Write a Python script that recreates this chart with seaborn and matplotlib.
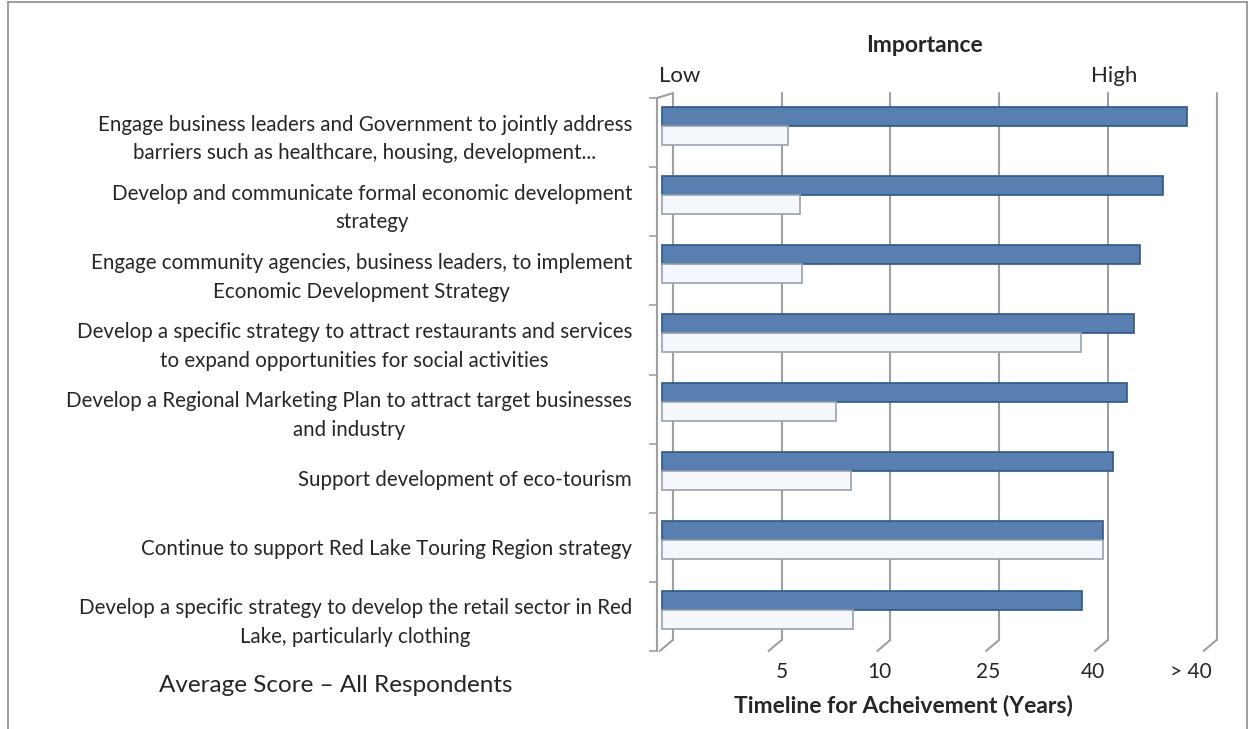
import numpy as np
import pandas as pd
import matplotlib
matplotlib.use("Agg")
import matplotlib.pyplot as plt
import seaborn as sns

# values (scale: 0 = Low ... 5 = "> 40")
categories = [
    "Engage business leaders and Government to jointly address\nbarriers such as healthcare, housing, development...",
    "Develop and communicate formal economic development\nstrategy",
    "Engage community agencies, business leaders, to implement\nEconomic Development Strategy",
    "Develop a specific strategy to attract restaurants and services\nto expand opportunities for social activities",
    "Develop a Regional Marketing Plan to attract target businesses\nand industry",
    "Support development of eco-tourism",
    "Continue to support Red Lake Touring Region strategy",
    "Develop a specific strategy to develop the retail sector in Red\nLake, particularly clothing",
]
importance = [4.83, 4.61, 4.40, 4.34, 4.28, 4.15, 4.06, 3.86]
timeline = [1.16, 1.27, 1.29, 3.85, 1.60, 1.74, 4.06, 1.76]
tick_labels = ["5", "10", "25", "40", "> 40"]
tick_pos = [1.1, 2.0, 3.0, 3.96, 4.86]

BLUE = "#4a7dbf"
BLUE_EDGE = "#2d5887"
WHITE = "#f3f7fc"
WHITE_EDGE = "#98a1ab"
GRID = "#a0a0a0"

df = pd.DataFrame({
    "label": categories * 2,
    "measure": ["Importance"] * len(categories) + ["Timeline"] * len(categories),
    "value": importance + timeline,
})

sns.set_style("white")
plt.rcParams["font.family"] = ["Lato", "DejaVu Sans"]

fig = plt.figure(figsize=(12.5, 7.29), dpi=100)
ax = fig.add_axes([657 / 1250, 1 - 651 / 729, 565 / 1250, 553 / 729])

sns.barplot(data=df, y="label", x="value", hue="measure", orient="h",
            palette=[BLUE, WHITE], width=0.55, dodge=True, legend=False,
            linewidth=1.2, zorder=3, ax=ax)
for cont, ec in zip(ax.containers, [BLUE_EDGE, WHITE_EDGE]):
    for bar in cont:
        bar.set_edgecolor(ec)

ax.set_xlim(-0.046, 5.15)
ax.set_ylim(7.6, -0.4)

# back wall gridlines with a small slant to the floor
for g in range(6):
    ax.plot([g + 0.1, g + 0.1], [-0.47, 7.44], color=GRID, lw=1.5, zorder=1, clip_on=False)
    ax.plot([g + 0.1, g - 0.02], [7.44, 7.6], color=GRID, lw=1.5, zorder=1, clip_on=False)
ax.plot([-0.046, 0.1], [-0.4, -0.47], color=GRID, lw=1.5, clip_on=False)

for side in ["top", "right", "bottom"]:
    ax.spines[side].set_visible(False)
ax.spines["left"].set_color(GRID)
ax.spines["left"].set_linewidth(1.5)

ax.set_yticks(np.arange(len(categories)) + 0.1)
ax.set_yticklabels(categories, fontsize=14.8, multialignment="center", linespacing=1.55)
ax.set_yticks(np.arange(-0.4, 7.7, 1.0), minor=True)
ax.tick_params(axis="y", which="major", length=0, pad=18)
ax.tick_params(axis="y", which="minor", length=6, width=1.2, color=GRID, direction="out", left=True)

ax.set_xticks(tick_pos)
ax.set_xticklabels(tick_labels, fontsize=15)
ax.tick_params(axis="x", length=0, pad=8)
ax.set_xlabel("")
ax.set_ylabel("")

fig.text(924 / 1250, 1 - 45 / 729, "Importance", ha="center", va="center",
         fontsize=16.5, fontweight="bold")
fig.text(680 / 1250, 1 - 76 / 729, "Low", ha="center", va="center", fontsize=16)
fig.text(1114 / 1250, 1 - 76 / 729, "High", ha="center", va="center", fontsize=16)
fig.text(903 / 1250, 1 - 705 / 729, "Timeline for Acheivement (Years)", ha="center",
         va="center", fontsize=16.5, fontweight="bold")
fig.text(336 / 1250, 1 - 685 / 729, "Average Score \u2013 All Respondents", ha="center",
         va="center", fontsize=17.5)

# outer frame of the original chart
fig.add_artist(plt.Line2D([8 / 1250, 8 / 1250], [0, 1 - 2 / 729], color="#8c8c8c", lw=1.2))
fig.add_artist(plt.Line2D([8 / 1250, 1247 / 1250], [1 - 2 / 729, 1 - 2 / 729], color="#8c8c8c", lw=1.2))
fig.add_artist(plt.Line2D([1247 / 1250, 1247 / 1250], [0, 1 - 2 / 729], color="#8c8c8c", lw=1.2))

fig.savefig("out.png", dpi=100)
